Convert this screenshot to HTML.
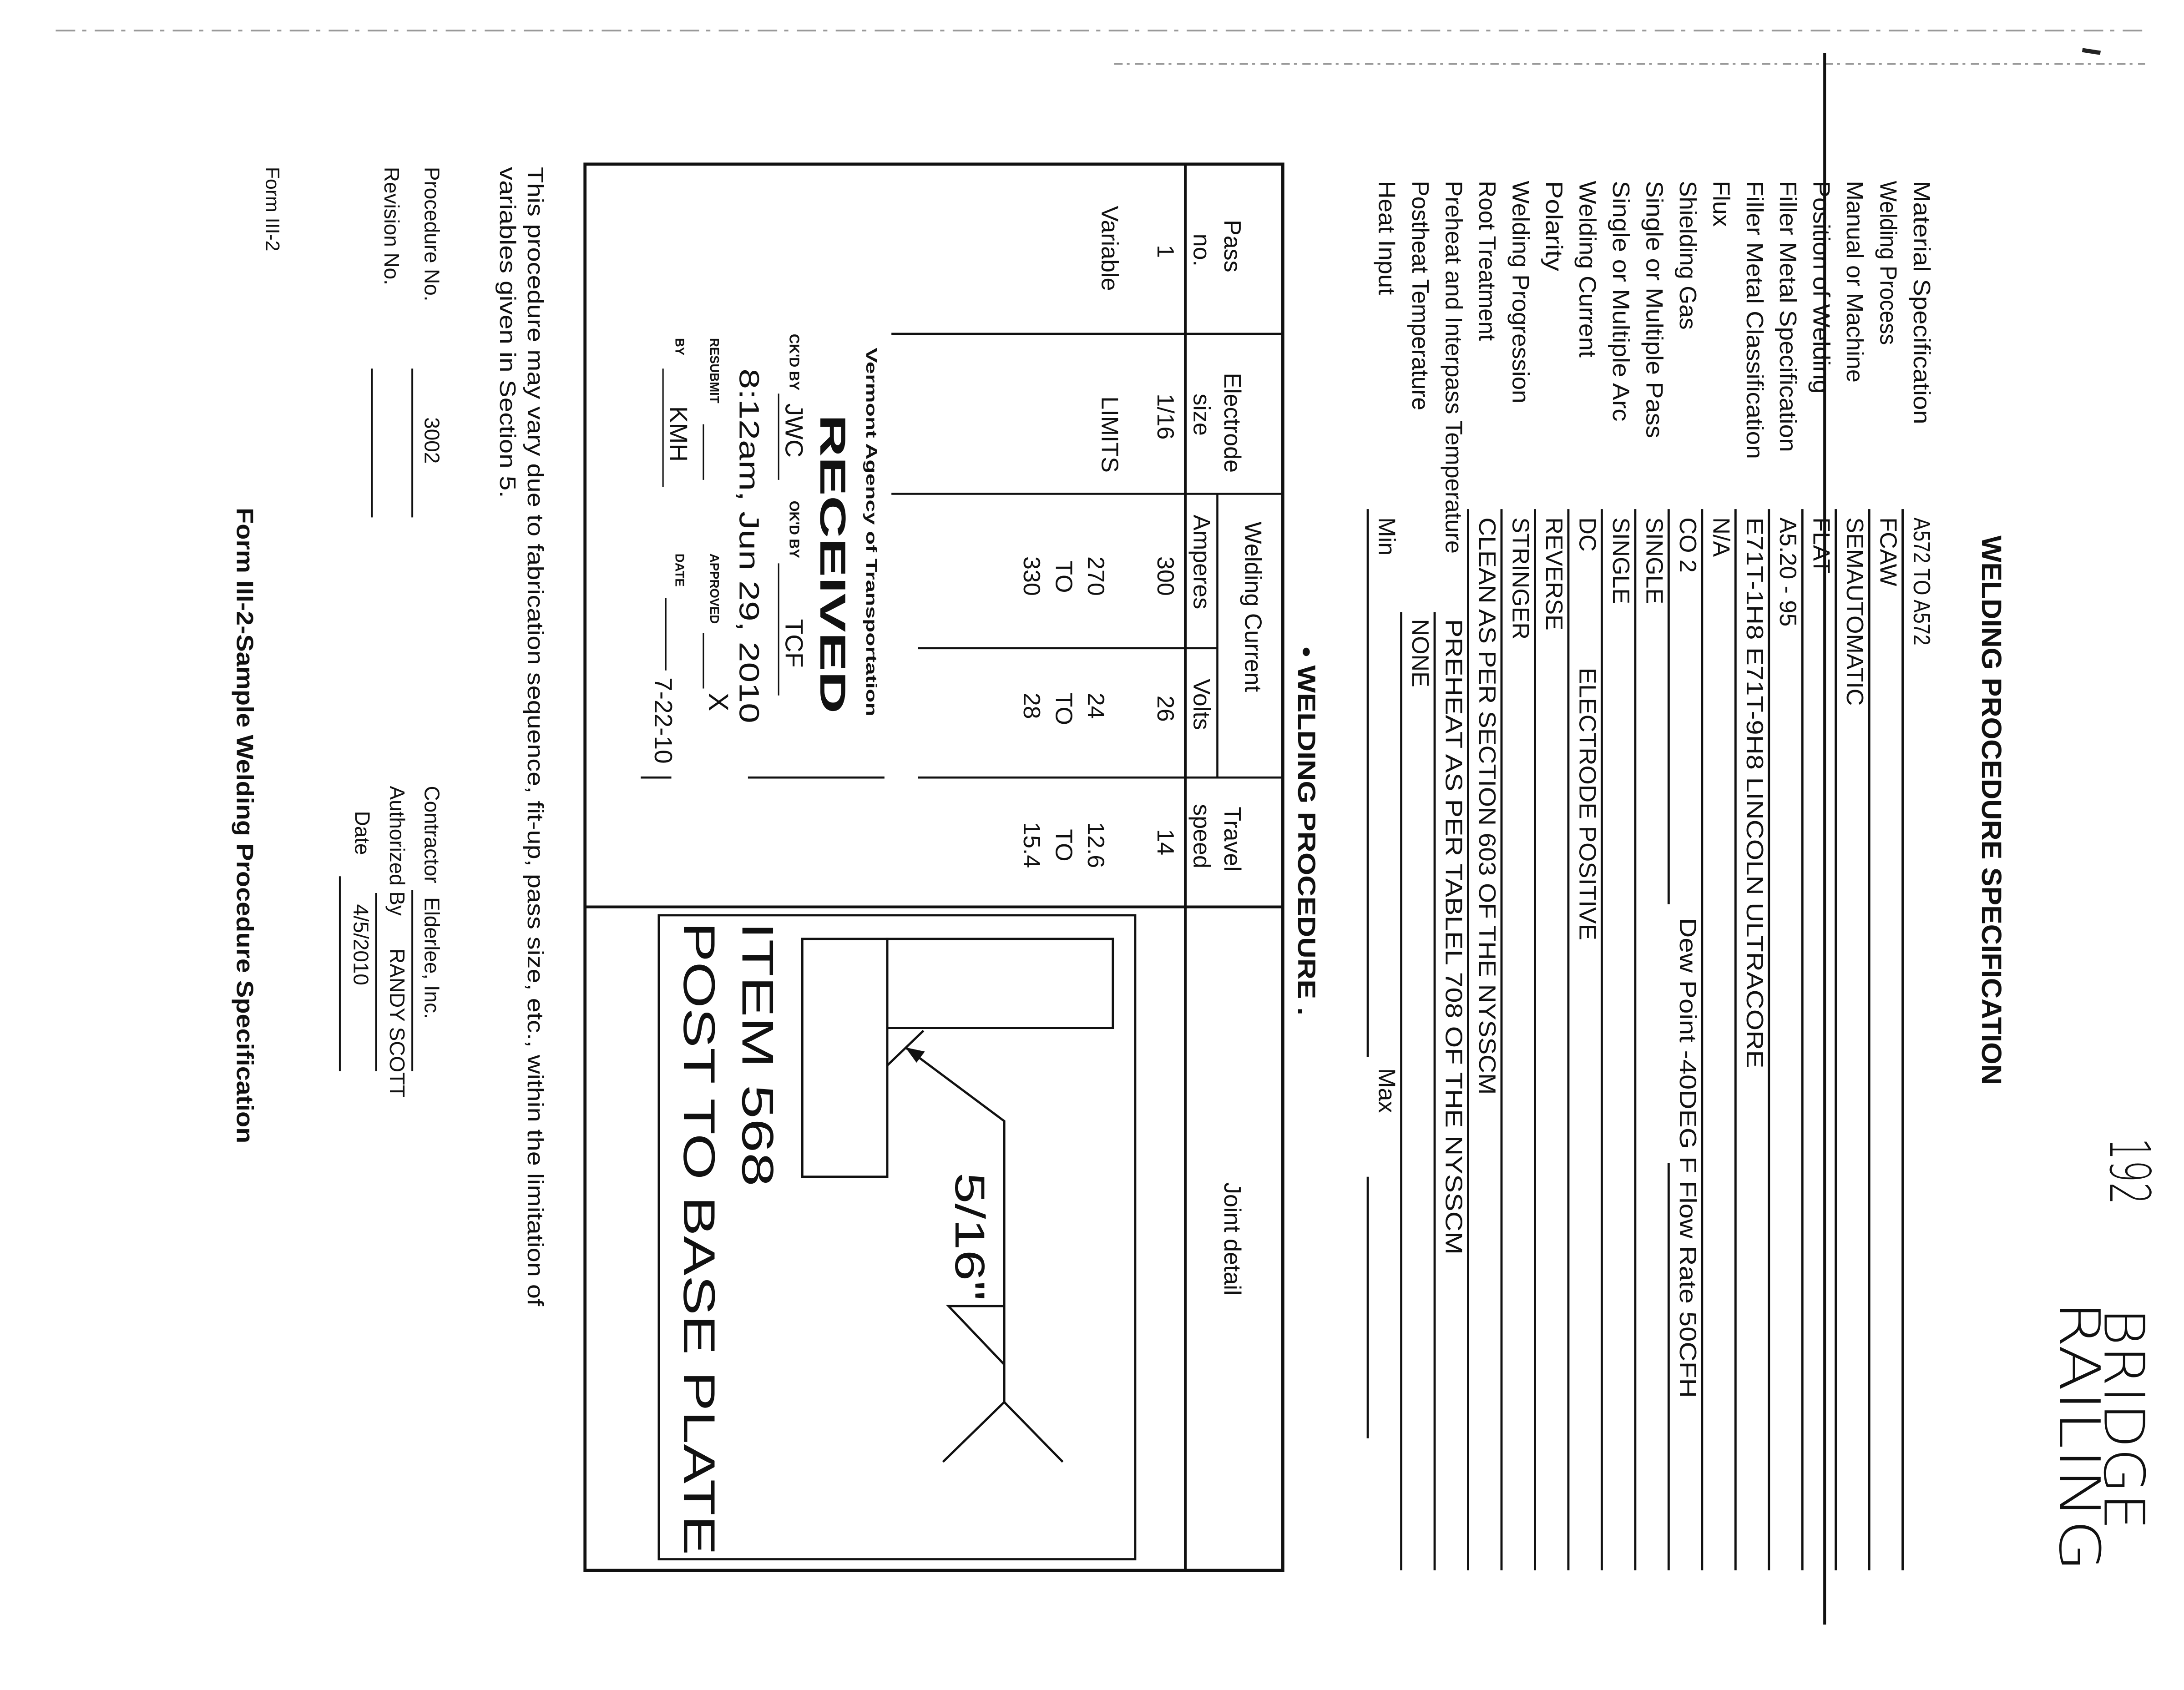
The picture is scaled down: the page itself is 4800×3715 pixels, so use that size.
<!DOCTYPE html>
<html><head><meta charset="utf-8"><style>
html,body{margin:0;padding:0;background:#fff;}
svg{display:block}
text{font-family:"Liberation Sans",Arial,sans-serif;fill:#111}
.b{font-weight:bold}
.h{font-family:"DejaVu Sans",sans-serif;font-weight:200}
</style></head><body>
<svg width="4800" height="3715" viewBox="0 0 1568 1215" preserveAspectRatio="none" xmlns="http://www.w3.org/2000/svg">
<rect width="1568" height="1215" fill="#fff"/>
<line x1="40" y1="22" x2="1540" y2="22" stroke="#999" stroke-width="1.2" stroke-dasharray="14 5 3 6"/>
<line x1="800" y1="46" x2="1540" y2="46" stroke="#999" stroke-width="1.2" stroke-dasharray="6 3 2 4"/>
<line x1="1495" y1="36" x2="1508" y2="38" stroke="#222" stroke-width="3"/>
<line x1="1310" y1="38" x2="1310" y2="1168" stroke="#111" stroke-width="2"/>

<text class="b" font-size="20" transform="translate(1423,385) rotate(90)" textLength="395" lengthAdjust="spacingAndGlyphs">WELDING PROCEDURE SPECIFICATION</text>

<text class="h" font-size="40" transform="translate(1515,818) rotate(90)" textLength="48" lengthAdjust="spacingAndGlyphs">192</text>
<text class="h" font-size="40" transform="translate(1511,940) rotate(90)" textLength="160" lengthAdjust="spacingAndGlyphs">BRIDGE</text>
<text class="h" font-size="40" transform="translate(1479,935) rotate(90)" textLength="195" lengthAdjust="spacingAndGlyphs">RAILING</text>

<g font-size="17">
<text transform="translate(1374,130) rotate(90)" textLength="175" lengthAdjust="spacingAndGlyphs">Material Specification</text>
<text transform="translate(1350,130) rotate(90)" textLength="118" lengthAdjust="spacingAndGlyphs">Welding Process</text>
<text transform="translate(1326,130) rotate(90)" textLength="145" lengthAdjust="spacingAndGlyphs">Manual or Machine</text>
<text transform="translate(1302,130) rotate(90)" textLength="153" lengthAdjust="spacingAndGlyphs">Position of Welding</text>
<text transform="translate(1278,130) rotate(90)" textLength="195" lengthAdjust="spacingAndGlyphs">Filler Metal Specification</text>
<text transform="translate(1254,130) rotate(90)" textLength="200" lengthAdjust="spacingAndGlyphs">Filler Metal Classification</text>
<text transform="translate(1230,130) rotate(90)" textLength="33" lengthAdjust="spacingAndGlyphs">Flux</text>
<text transform="translate(1206,130) rotate(90)" textLength="107" lengthAdjust="spacingAndGlyphs">Shielding Gas</text>
<text transform="translate(1182,130) rotate(90)" textLength="185" lengthAdjust="spacingAndGlyphs">Single or Multiple Pass</text>
<text transform="translate(1158,130) rotate(90)" textLength="173" lengthAdjust="spacingAndGlyphs">Single or Multiple Arc</text>
<text transform="translate(1134,130) rotate(90)" textLength="127" lengthAdjust="spacingAndGlyphs">Welding Current</text>
<text transform="translate(1110,130) rotate(90)" textLength="65" lengthAdjust="spacingAndGlyphs">Polarity</text>
<text transform="translate(1086,130) rotate(90)" textLength="160" lengthAdjust="spacingAndGlyphs">Welding Progression</text>
<text transform="translate(1062,130) rotate(90)" textLength="115" lengthAdjust="spacingAndGlyphs">Root Treatment</text>
<text transform="translate(1038,130) rotate(90)" textLength="268" lengthAdjust="spacingAndGlyphs">Preheat and Interpass Temperature</text>
<text transform="translate(1014,130) rotate(90)" textLength="165" lengthAdjust="spacingAndGlyphs">Postheat Temperature</text>
<text transform="translate(990,130) rotate(90)" textLength="82" lengthAdjust="spacingAndGlyphs">Heat Input</text>
</g>

<g font-size="17">
<text transform="translate(1374,372) rotate(90)" textLength="92" lengthAdjust="spacingAndGlyphs">A572 TO A572</text>
<text transform="translate(1350,372) rotate(90)">FCAW</text>
<text transform="translate(1326,372) rotate(90)">SEMAUTOMATIC</text>
<text transform="translate(1302,372) rotate(90)">FLAT</text>
<text transform="translate(1278,372) rotate(90)">A5.20 - 95</text>
<text transform="translate(1254,372) rotate(90)" textLength="396" lengthAdjust="spacingAndGlyphs">E71T-1H8  E71T-9H8 LINCOLN  ULTRACORE</text>
<text transform="translate(1230,372) rotate(90)">N/A</text>
<text transform="translate(1206,372) rotate(90)">CO 2</text>
<text transform="translate(1206,660) rotate(90)" textLength="345" lengthAdjust="spacingAndGlyphs">Dew Point  -40DEG F  Flow Rate  50CFH</text>
<text transform="translate(1182,372) rotate(90)">SINGLE</text>
<text transform="translate(1158,372) rotate(90)">SINGLE</text>
<text transform="translate(1134,372) rotate(90)">DC</text>
<text transform="translate(1134,480) rotate(90)" textLength="196" lengthAdjust="spacingAndGlyphs">ELECTRODE POSITIVE</text>
<text transform="translate(1110,372) rotate(90)">REVERSE</text>
<text transform="translate(1086,372) rotate(90)">STRINGER</text>
<text transform="translate(1062,372) rotate(90)" textLength="415" lengthAdjust="spacingAndGlyphs">CLEAN AS PER SECTION 603 OF THE NYSSCM</text>
<text transform="translate(1038,445) rotate(90)" textLength="457" lengthAdjust="spacingAndGlyphs">PREHEAT AS PER TABLEL 708 OF THE NYSSCM</text>
<text transform="translate(1014,445) rotate(90)">NONE</text>
<text transform="translate(990,372) rotate(90)">Min</text>
<text transform="translate(990,768) rotate(90)">Max</text>
</g>
<g stroke="#111" stroke-width="1.6">
<line x1="1366" y1="366" x2="1366" y2="1129"/>
<line x1="1342" y1="366" x2="1342" y2="1129"/>
<line x1="1318" y1="366" x2="1318" y2="1129"/>
<line x1="1294" y1="366" x2="1294" y2="1129"/>
<line x1="1270" y1="366" x2="1270" y2="1129"/>
<line x1="1246" y1="366" x2="1246" y2="1129"/>
<line x1="1222" y1="366" x2="1222" y2="1129"/>
<line x1="1198" y1="366" x2="1198" y2="650"/>
<line x1="1198" y1="836" x2="1198" y2="1129"/>
<line x1="1174" y1="366" x2="1174" y2="1129"/>
<line x1="1150" y1="366" x2="1150" y2="1129"/>
<line x1="1126" y1="366" x2="1126" y2="1129"/>
<line x1="1102" y1="366" x2="1102" y2="1129"/>
<line x1="1078" y1="366" x2="1078" y2="1129"/>
<line x1="1054" y1="366" x2="1054" y2="1129"/>
<line x1="1030" y1="440" x2="1030" y2="1129"/>
<line x1="1006" y1="440" x2="1006" y2="1129"/>
<line x1="982" y1="366" x2="982" y2="760"/>
<line x1="982" y1="846" x2="982" y2="1034"/>
</g>

<text class="b" font-size="18" transform="translate(932,465) rotate(90)" textLength="265" lengthAdjust="spacingAndGlyphs">• WELDING PROCEDURE .</text>

<g stroke="#111" fill="none">
<rect x="420" y="118" width="501" height="1011" stroke-width="2.2"/>
<line x1="851" y1="118" x2="851" y2="1129" stroke-width="2"/>
<line x1="874" y1="355" x2="874" y2="559" stroke-width="1.5"/>
<line x1="921" y1="240" x2="640" y2="240" stroke-width="1.5"/>
<line x1="921" y1="355" x2="640" y2="355" stroke-width="1.5"/>
<line x1="874" y1="466" x2="659" y2="466" stroke-width="1.5"/>
<line x1="921" y1="559" x2="659" y2="559" stroke-width="1.5"/>
<line x1="635" y1="559" x2="537" y2="559" stroke-width="1.5"/>
<line x1="482" y1="559" x2="460" y2="559" stroke-width="1.5"/>
<line x1="921" y1="652" x2="420" y2="652" stroke-width="2"/>
</g>
<g font-size="17">
<text transform="translate(879,158) rotate(90)">Pass</text>
<text transform="translate(857,168) rotate(90)">no.</text>
<text transform="translate(831,176) rotate(90)">1</text>
<text transform="translate(879,268) rotate(90)">Electrode</text>
<text transform="translate(857,283) rotate(90)">size</text>
<text transform="translate(831,283) rotate(90)">1/16</text>
<text transform="translate(894,375) rotate(90)">Welding Current</text>
<text transform="translate(857,370) rotate(90)">Amperes</text>
<text transform="translate(831,400) rotate(90)">300</text>
<text transform="translate(857,488) rotate(90)">Volts</text>
<text transform="translate(831,500) rotate(90)">26</text>
<text transform="translate(879,580) rotate(90)">Travel</text>
<text transform="translate(857,578) rotate(90)">speed</text>
<text transform="translate(831,596) rotate(90)">14</text>
<text transform="translate(879,850) rotate(90)">Joint detail</text>
<text transform="translate(791,148) rotate(90)">Variable</text>
<text transform="translate(791,285) rotate(90)">LIMITS</text>
<text transform="translate(781,400) rotate(90)">270</text>
<text transform="translate(758,403) rotate(90)">TO</text>
<text transform="translate(735,400) rotate(90)">330</text>
<text transform="translate(781,498) rotate(90)">24</text>
<text transform="translate(758,498) rotate(90)">TO</text>
<text transform="translate(735,498) rotate(90)">28</text>
<text transform="translate(781,591) rotate(90)">12.6</text>
<text transform="translate(758,596) rotate(90)">TO</text>
<text transform="translate(735,591) rotate(90)">15.4</text>
</g>

<text class="b" font-size="11" transform="translate(622,250) rotate(90)" textLength="265" lengthAdjust="spacingAndGlyphs">Vermont Agency of Transportation</text>
<text class="b" font-size="26" transform="translate(589,298) rotate(90)" textLength="215" lengthAdjust="spacingAndGlyphs">RECEIVED</text>
<text class="b" font-size="10" transform="translate(567,240) rotate(90)">CK'D BY</text>
<text font-size="18" transform="translate(564,290) rotate(90)">JWC</text>
<line x1="559" y1="283" x2="559" y2="345" stroke="#111" stroke-width="1"/>
<text class="b" font-size="10" transform="translate(567,360) rotate(90)">OK'D BY</text>
<text font-size="18" transform="translate(564,445) rotate(90)">TCF</text>
<line x1="559" y1="405" x2="559" y2="500" stroke="#111" stroke-width="1"/>
<text font-size="20" transform="translate(531,265) rotate(90)" textLength="255" lengthAdjust="spacingAndGlyphs">8:12am, Jun 29, 2010</text>
<text class="b" font-size="9" transform="translate(510,243) rotate(90)">RESUBMIT</text>
<line x1="505" y1="305" x2="505" y2="345" stroke="#111" stroke-width="1"/>
<text class="b" font-size="9" transform="translate(510,398) rotate(90)">APPROVED</text>
<line x1="505" y1="455" x2="505" y2="495" stroke="#111" stroke-width="1"/>
<text font-size="20" transform="translate(509,498) rotate(90)">X</text>
<text class="b" font-size="9" transform="translate(485,243) rotate(90)">BY</text>
<text font-size="18" transform="translate(481,292) rotate(90)">KMH</text>
<line x1="476" y1="265" x2="476" y2="350" stroke="#111" stroke-width="1"/>
<text class="b" font-size="9" transform="translate(485,398) rotate(90)">DATE</text>
<line x1="478" y1="430" x2="478" y2="482" stroke="#111" stroke-width="1"/>
<text font-size="18" transform="translate(470,487) rotate(90)">7-22-10</text>

<g stroke="#111" fill="none" stroke-width="1.6">
<rect x="473" y="658" width="342" height="463"/>
<rect x="576" y="675" width="61" height="171"/>
<rect x="637" y="675" width="162" height="64"/>
<polyline points="637,766 663,741"/>
<polyline points="650,753 721,806 721,1008"/>
<polyline points="721,939 681,939 721,981"/>
<polyline points="677,1051 721,1008 763,1051"/>
</g>
<polygon points="650,753 664,756 658,764" fill="#111"/>
<text font-size="30" transform="translate(686,843) rotate(90)" textLength="92" lengthAdjust="spacingAndGlyphs">5/16"</text>
<text font-size="32" transform="translate(533,663) rotate(90)" textLength="190" lengthAdjust="spacingAndGlyphs">ITEM 568</text>
<text font-size="32" transform="translate(491,663) rotate(90)" textLength="455" lengthAdjust="spacingAndGlyphs">POST TO BASE PLATE</text>

<text font-size="16" transform="translate(379,120) rotate(90)" textLength="819" lengthAdjust="spacingAndGlyphs">This procedure may vary due to fabrication sequence, fit-up, pass size, etc., within the limitation of</text>
<text font-size="16" transform="translate(359,120) rotate(90)" textLength="238" lengthAdjust="spacingAndGlyphs">variables given in Section 5.</text>

<g font-size="15">
<text transform="translate(305,120) rotate(90)">Procedure No.</text>
<text transform="translate(305,300) rotate(90)">3002</text>
<text transform="translate(276,120) rotate(90)">Revision No.</text>
<text transform="translate(305,565) rotate(90)">Contractor</text>
<text transform="translate(305,645) rotate(90)">Elderlee, Inc.</text>
<text transform="translate(280,565) rotate(90)">Authorized By</text>
<text transform="translate(280,682) rotate(90)">RANDY SCOTT</text>
<text transform="translate(255,583) rotate(90)">Date</text>
<text transform="translate(254,650) rotate(90)">4/5/2010</text>
<text transform="translate(191,120) rotate(90)" font-size="14">Form III-2</text>
</g>
<g stroke="#111" stroke-width="1.3">
<line x1="296" y1="265" x2="296" y2="372"/>
<line x1="267" y1="265" x2="267" y2="372"/>
<line x1="296" y1="640" x2="296" y2="770"/>
<line x1="270" y1="642" x2="270" y2="770"/>
<line x1="244" y1="630" x2="244" y2="770"/>
</g>
<text class="b" font-size="17" transform="translate(170,365) rotate(90)" textLength="457" lengthAdjust="spacingAndGlyphs">Form III-2-Sample Welding Procedure Specification</text>
</svg>
</body></html>
